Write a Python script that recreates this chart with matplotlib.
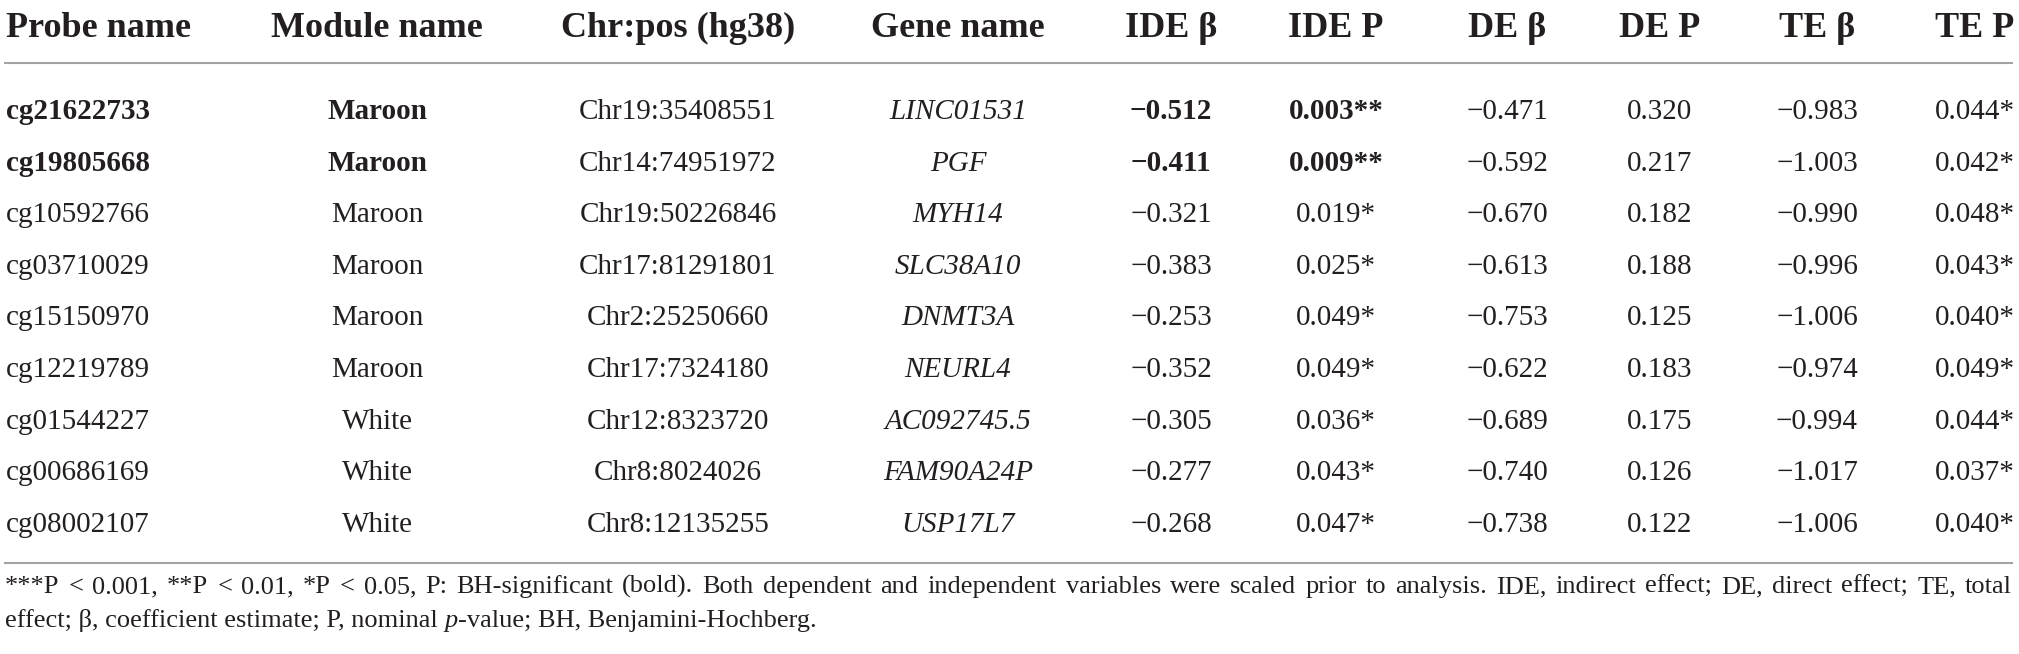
import matplotlib
matplotlib.use("Agg")
import matplotlib.pyplot as plt

# table data
headers = ["Probe name", "Module name", "Chr:pos (hg38)", "Gene name",
           "IDE β", "IDE P", "DE β", "DE P", "TE β", "TE P"]
probes = ["cg21622733", "cg19805668", "cg10592766", "cg03710029", "cg15150970",
          "cg12219789", "cg01544227", "cg00686169", "cg08002107"]
modules = ["Maroon", "Maroon", "Maroon", "Maroon", "Maroon", "Maroon",
           "White", "White", "White"]
positions = ["Chr19:35408551", "Chr14:74951972", "Chr19:50226846", "Chr17:81291801",
             "Chr2:25250660", "Chr17:7324180", "Chr12:8323720", "Chr8:8024026",
             "Chr8:12135255"]
genes = ["LINC01531", "PGF", "MYH14", "SLC38A10", "DNMT3A", "NEURL4",
         "AC092745.5", "FAM90A24P", "USP17L7"]
ide_beta = [-0.512, -0.411, -0.321, -0.383, -0.253, -0.352, -0.305, -0.277, -0.268]
ide_p = [0.003, 0.009, 0.019, 0.025, 0.049, 0.049, 0.036, 0.043, 0.047]
de_beta = [-0.471, -0.592, -0.670, -0.613, -0.753, -0.622, -0.689, -0.740, -0.738]
de_p = [0.320, 0.217, 0.182, 0.188, 0.125, 0.183, 0.175, 0.126, 0.122]
te_beta = [-0.983, -1.003, -0.990, -0.996, -1.006, -0.974, -0.994, -1.017, -1.006]
te_p = [0.044, 0.042, 0.048, 0.043, 0.040, 0.049, 0.044, 0.037, 0.040]
bh_significant = [True, True, False, False, False, False, False, False, False]

footnote_1 = ("***P < 0.001, **P < 0.01, *P < 0.05, P: BH-significant (bold). Both dependent "
              "and independent variables were scaled prior to analysis. IDE, indirect effect; "
              "DE, direct effect; TE, total")
footnote_2 = [("effect; β, coefficient estimate; P, nominal", "normal"), ("p", "italic"),
              ("-value; BH, Benjamini-Hochberg.", "normal")]

# layout (pixels)
W, H = 2019, 654
col_x = [6, 377, 678, 958, 1171, 1336, 1507, 1660, 1817, 1975]
col_ha = ["left"] + ["center"] * 9
header_base = 37
row_base0 = 119
row_step = 51.6
rule_top = 63
rule_bottom = 563
rule_x = (5, 2012)
foot_base = (593, 627)

TXT = "#231f20"
RULE = "#a3a3a3"
plt.rcParams["font.family"] = ["Liberation Serif", "DejaVu Serif"]


def fmt_num(v):
    return f"{v:.3f}".replace("-", "\u2212")


def stars(p):
    if p < 0.001:
        return "***"
    if p < 0.01:
        return "**"
    if p < 0.05:
        return "*"
    return ""


fig = plt.figure(figsize=(W / 100, H / 100), dpi=100)
ax = fig.add_axes([0, 0, 1, 1])
ax.set_xlim(0, W)
ax.set_ylim(H, 0)
ax.axis("off")

for x, ha, h in zip(col_x, col_ha, headers):
    ax.text(x, header_base, h, ha=ha, va="baseline", fontsize=26,
            fontweight="bold", color=TXT)

ax.plot(rule_x, [rule_top, rule_top], color=RULE, lw=1.5)
ax.plot(rule_x, [rule_bottom, rule_bottom], color=RULE, lw=1.5)

for i in range(len(probes)):
    y = row_base0 + i * row_step
    bold = "bold" if bh_significant[i] else "normal"
    cells = [
        (probes[i], bold, "normal"),
        (modules[i], bold, "normal"),
        (positions[i], "normal", "normal"),
        (genes[i], "normal", "italic"),
        (fmt_num(ide_beta[i]), bold, "normal"),
        (f"{ide_p[i]:.3f}" + stars(ide_p[i]), bold, "normal"),
        (fmt_num(de_beta[i]), "normal", "normal"),
        (f"{de_p[i]:.3f}" + stars(de_p[i]), "normal", "normal"),
        (fmt_num(te_beta[i]), "normal", "normal"),
        (f"{te_p[i]:.3f}" + stars(te_p[i]), "normal", "normal"),
    ]
    for x, ha, (txt, wt, st) in zip(col_x, col_ha, cells):
        ax.text(x, y, txt, ha=ha, va="baseline", fontsize=21, fontweight=wt,
                fontstyle=st, color=TXT)

# footnote: first line justified to the rule width
renderer = fig.canvas.get_renderer()
fs = 19


def width(txt, style="normal"):
    t = ax.text(0, 0, txt, fontsize=fs, fontstyle=style)
    w = t.get_window_extent(renderer).width
    t.remove()
    return w


words = footnote_1.split(" ")
widths = [width(w) for w in words]
gap = (rule_x[1] - rule_x[0] - sum(widths)) / (len(words) - 1)
x = rule_x[0]
for w, wd in zip(words, widths):
    ax.text(x, foot_base[0], w, fontsize=fs, va="baseline", ha="left", color=TXT)
    x += wd + gap

space = width("n n") - width("nn")
x = rule_x[0]
for k, (txt, st) in enumerate(footnote_2):
    ax.text(x, foot_base[1], txt, fontsize=fs, fontstyle=st, va="baseline",
            ha="left", color=TXT)
    x += width(txt, st) + (space if k == 0 else 0)

fig.savefig("out.png", dpi=100)
